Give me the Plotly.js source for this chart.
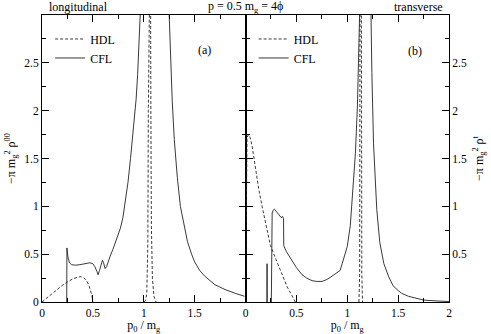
<!DOCTYPE html>
<html>
<head>
<meta charset="utf-8">
<script src="https://cdn.plot.ly/plotly-3.0.1.min.js"></script>
<style>
  html, body { margin: 0; padding: 0; background: #fff; }
  #plot { width: 491px; height: 334px; }
</style>
</head>
<body>
<div id="plot"></div>
<script>
// (a) longitudinal, HDL: low bump, then narrow plasmon spike (null = break)
var longHdlX = [0, 0.05, 0.1, 0.15, 0.2, 0.25, 0.3, 0.35, 0.38, 0.41, 0.44, 0.46, 0.48, 0.49, 0.5,
  null, 1.005, 1.02, 1.03, 1.04, 1.045, 1.05, 1.065, 1.07, 1.075, 1.085, 1.1, 1.12];
var longHdlY = [0, 0.045, 0.09, 0.135, 0.175, 0.21, 0.24, 0.26, 0.265, 0.255, 0.22, 0.18, 0.12, 0.07, 0,
  null, 0, 0.02, 0.1, 0.6, 2.0, 4, 4, 2.0, 0.8, 0.25, 0.06, 0];

// (a) longitudinal, CFL
var longCflX = [0.243, 0.245, 0.255, 0.27, 0.29, 0.33, 0.373, 0.42, 0.47, 0.5, 0.519, 0.54, 0.551,
  0.565, 0.585, 0.594, 0.605, 0.62, 0.635, 0.649, 0.67, 0.697, 0.72, 0.746, 0.77, 0.795, 0.82,
  0.845, 0.87, 0.89, 0.91, 0.925, 0.94, 0.955, 0.965, 0.975,
  1.24, 1.25, 1.265, 1.28, 1.3, 1.33, 1.36, 1.4, 1.43, 1.47, 1.5, 1.55, 1.6, 1.7, 1.8, 1.9, 1.99];
var longCflY = [0, 0.565, 0.47, 0.41, 0.39, 0.385, 0.39, 0.4, 0.41, 0.4, 0.37, 0.32, 0.285,
  0.33, 0.42, 0.435, 0.41, 0.35, 0.37, 0.425, 0.48, 0.55, 0.62, 0.69, 0.77, 0.88, 1.05,
  1.25, 1.5, 1.72, 1.95, 2.12, 2.38, 2.7, 3.0, 3.6,
  3.6, 3.0, 2.5, 2.1, 1.7, 1.3, 1.0, 0.78, 0.63, 0.5, 0.42, 0.33, 0.27, 0.18, 0.13, 0.09, 0.06];

// (b) transverse, HDL
var transHdlX = [0, 0.004, 0.008, 0.015, 0.03, 0.045, 0.065, 0.08, 0.1, 0.13, 0.163, 0.2, 0.245,
  0.29, 0.327, 0.37, 0.409, 0.45, 0.48, 0.49,
  null, 1.115, 1.122, 1.127, 1.138, 1.143, 1.15];
var transHdlY = [0, 0.8, 1.5, 1.72, 1.75, 1.72, 1.63, 1.52, 1.38, 1.18, 1.0, 0.8, 0.59,
  0.47, 0.37, 0.26, 0.16, 0.08, 0.02, 0,
  null, 0, 0.3, 4, 4, 0.3, 0];

// (b) transverse, CFL
var transCflX = [0.211, 0.212, 0.213, null,
  0.254, 0.256, 0.262, 0.272, 0.284, 0.3, 0.327, 0.353, 0.362, 0.368, 0.374, 0.376, 0.4, 0.458,
  0.5, 0.556, 0.6, 0.654, 0.7, 0.752, 0.8, 0.85, 0.9, 0.93, 0.95, 1.0, 1.03, 1.06, 1.08, 1.1,
  1.115, 1.127, 1.135, 1.225, 1.232, 1.242, 1.258, 1.275, 1.29, 1.32, 1.36, 1.405, 1.45, 1.5,
  1.536, 1.6, 1.75, 1.9, 2.0];
var transCflY = [0, 0.4, 0, null,
  0, 0.9, 0.93, 0.96, 0.97, 0.95, 0.91, 0.88, 0.895, 0.89, 0.87, 0.59, 0.53, 0.425,
  0.36, 0.285, 0.25, 0.223, 0.215, 0.215, 0.235, 0.27, 0.31, 0.33, 0.4, 0.58, 0.8, 1.2, 1.55, 2.05,
  2.5, 3.05, 3.6, 3.6, 3.05, 2.4, 1.66, 1.25, 0.97, 0.62, 0.4, 0.27, 0.17, 0.12,
  0.09, 0.06, 0.02, 0.01, 0.005];

var xTicksA = [0, 0.5, 1, 1.5];
var xTicksB = [0, 0.5, 1, 1.5, 2];
var yTicksA = [0, 0.5, 1, 1.5, 2, 2.5];
var yTicksB = [0.5, 1, 1.5, 2, 2.5];

var serif = '"Liberation Serif", "Times New Roman", Times, serif';
var hdlLine = {color: '#222', width: 0.9, dash: '3px,2px'};
var cflLine = {color: '#222', width: 0.9};

var data = [
  {x: longHdlX, y: longHdlY, name: 'HDL', mode: 'lines', line: hdlLine, xaxis: 'x', yaxis: 'y', legend: 'legend'},
  {x: longCflX, y: longCflY, name: 'CFL', mode: 'lines', line: cflLine, xaxis: 'x', yaxis: 'y', legend: 'legend'},
  {x: transHdlX, y: transHdlY, name: 'HDL', mode: 'lines', line: hdlLine, xaxis: 'x2', yaxis: 'y2', legend: 'legend2'},
  {x: transCflX, y: transCflY, name: 'CFL', mode: 'lines', line: cflLine, xaxis: 'x2', yaxis: 'y2', legend: 'legend2'}
];

function axis(extra) {
  var a = {
    showgrid: false,
    zeroline: false,
    showline: true,
    linecolor: 'black',
    linewidth: 1,
    mirror: 'allticks',
    ticks: 'inside',
    ticklen: 7,
    tickwidth: 1,
    tickcolor: 'black',
    tickmode: 'array',
    minor: {ticks: 'inside', ticklen: 4, dtick: 0.25, tick0: 0, tickcolor: 'black', showgrid: false},
    tickfont: {family: serif, size: 11.5, color: 'black'}
  };
  for (var k in extra) a[k] = extra[k];
  return a;
}

var legendStyle = {
  bgcolor: 'rgba(0,0,0,0)',
  borderwidth: 0,
  font: {family: serif, size: 12, color: 'black'},
  xanchor: 'left',
  yanchor: 'top',
  y: 0.967
};

var titleFont = {family: serif, size: 12, color: 'black'};

var layout = {
  width: 491,
  height: 334,
  margin: {l: 42, r: 42, t: 15, b: 32},
  paper_bgcolor: 'white',
  plot_bgcolor: 'white',
  font: {family: serif, size: 12, color: 'black'},
  showlegend: true,
  legend: Object.assign({}, legendStyle, {x: 0.02}),
  legend2: Object.assign({}, legendStyle, {x: 0.52}),
  xaxis: axis({domain: [0, 0.5], range: [0, 2], anchor: 'y', tickvals: xTicksA,
    title: {text: 'p<sub>0</sub> / m<sub>g</sub>', standoff: 5, font: titleFont}}),
  xaxis2: axis({domain: [0.5, 1], range: [0, 2], anchor: 'y2', tickvals: xTicksB,
    title: {text: 'p<sub>0</sub> / m<sub>g</sub>', standoff: 5, font: titleFont}}),
  yaxis: axis({domain: [0, 1], range: [0, 3], anchor: 'x', tickvals: yTicksA,
    title: {text: '\u2212\u03c0 m<sub>g</sub><sup>2</sup> \u03c1<sup>00</sup>', standoff: 6, font: titleFont}}),
  yaxis2: axis({domain: [0, 1], range: [0, 3], anchor: 'x2', side: 'right', tickvals: yTicksB,
    title: {text: '\u2212\u03c0 m<sub>g</sub><sup>2</sup> \u03c1<sup>t</sup>', standoff: 8, font: titleFont}}),
  annotations: [
    {text: 'longitudinal', xref: 'paper', yref: 'paper', x: 0.013, y: 1.028, xanchor: 'left', yanchor: 'middle', showarrow: false},
    {text: 'p = 0.5 m<sub>g</sub> = 4\u03d5', xref: 'paper', yref: 'paper', x: 0.5, y: 1.028, xanchor: 'center', yanchor: 'middle', showarrow: false},
    {text: 'transverse', xref: 'paper', yref: 'paper', x: 0.99, y: 1.028, xanchor: 'right', yanchor: 'middle', showarrow: false},
    {text: '(a)', xref: 'paper', yref: 'paper', x: 0.40, y: 0.878, xanchor: 'center', yanchor: 'middle', showarrow: false},
    {text: '(b)', xref: 'paper', yref: 'paper', x: 0.916, y: 0.875, xanchor: 'center', yanchor: 'middle', showarrow: false}
  ]
};

Plotly.newPlot('plot', data, layout, {displayModeBar: false, staticPlot: true});
</script>
</body>
</html>
